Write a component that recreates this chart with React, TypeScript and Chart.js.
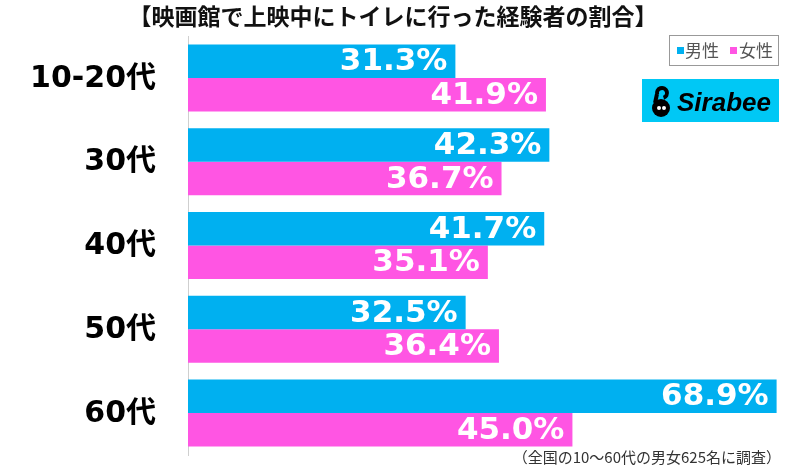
import React, { useEffect, useRef } from "react";
import { Chart, registerables } from "chart.js";
Chart.register(...registerables);

const categories = ["10-20代", "30代", "40代", "50代", "60代"];
const maleValues = [31.3, 42.3, 41.7, 32.5, 68.9];
const femaleValues = [41.9, 36.7, 35.1, 36.4, 45.0];
const seriesNames = ["男性", "女性"];
const titleText = "【映画館で上映中にトイレに行った経験者の割合】";
const noteText = "（全国の10〜60代の男女625名に調査）";
const logoText = "Sirabee";
const xMax = 70;

const BLUE = "#00b0f0";
const PINK = "#ff55e3";
const NUM_FONT = "'DejaVu Sans', 'Noto Sans CJK JP', sans-serif";
const JP_FONT = "'Noto Sans CJK JP', sans-serif";

const overlayPlugin = {
  id: "overlay",
  afterDatasetsDraw(chart: any) {
    const ctx = chart.ctx;
    ctx.save();
    ctx.fillStyle = "#ffffff";
    ctx.font = `bold 31px ${NUM_FONT}`;
    ctx.textAlign = "right";
    ctx.textBaseline = "middle";
    chart.data.datasets.forEach((ds: any, di: number) => {
      const meta = chart.getDatasetMeta(di);
      meta.data.forEach((el: any, i: number) => {
        const v = ds.data[i];
        ctx.fillText(v.toFixed(1) + "%", el.x - 8, el.y + 1);
      });
    });
    ctx.restore();
  },
  afterDraw(chart: any) {
    const ctx = chart.ctx;
    const yScale = chart.scales.y;
    ctx.save();
    // category labels
    ctx.fillStyle = "#000";
    ctx.font = `bold 30px ${NUM_FONT}`;
    ctx.textAlign = "right";
    ctx.textBaseline = "middle";
    categories.forEach((c, i) => {
      ctx.fillText(c, 156, yScale.getPixelForValue(i) + 1);
    });

    // title
    ctx.fillStyle = "#111";
    ctx.font = `bold 23px ${JP_FONT}`;
    ctx.textAlign = "center";
    ctx.textBaseline = "middle";
    ctx.fillText(titleText, 393, 16);

    // legend
    ctx.strokeStyle = "#999";
    ctx.lineWidth = 1;
    ctx.strokeRect(669.5, 35.5, 109, 30);
    ctx.fillStyle = BLUE;
    ctx.fillRect(677, 47, 7, 7);
    ctx.fillStyle = PINK;
    ctx.fillRect(730, 47, 7, 7);
    ctx.fillStyle = "#555";
    ctx.font = `17px ${JP_FONT}`;
    ctx.textAlign = "left";
    ctx.fillText(seriesNames[0], 685, 51);
    ctx.fillText(seriesNames[1], 739, 51);

    // logo
    ctx.fillStyle = "#00c8f5";
    ctx.fillRect(642, 79, 137, 43);
    ctx.fillStyle = "#000";
    ctx.beginPath();
    ctx.arc(661, 108, 9, 0, Math.PI * 2);
    ctx.fill();
    ctx.lineWidth = 4;
    ctx.strokeStyle = "#000";
    ctx.beginPath();
    ctx.arc(662, 93, 5, Math.PI * 0.9, Math.PI * 2.4);
    ctx.stroke();
    ctx.beginPath();
    ctx.moveTo(657, 94);
    ctx.lineTo(655, 103);
    ctx.stroke();
    ctx.fillStyle = "#fff";
    ctx.beginPath();
    ctx.arc(659, 108, 2, 0, Math.PI * 2);
    ctx.arc(664, 108, 2, 0, Math.PI * 2);
    ctx.fill();
    ctx.fillStyle = "#000";
    ctx.font = `italic bold 26px 'Liberation Sans', sans-serif`;
    ctx.textAlign = "left";
    ctx.textBaseline = "alphabetic";
    ctx.fillText(logoText, 677, 111);

    // note
    ctx.fillStyle = "#333";
    ctx.font = `15px ${JP_FONT}`;
    ctx.textAlign = "right";
    ctx.textBaseline = "middle";
    ctx.fillText(noteText, 781, 457);
    ctx.restore();
  },
};

export default function App() {
  const ref = useRef<HTMLCanvasElement | null>(null);
  useEffect(() => {
    document.body.style.margin = "0";
    const canvas = ref.current!;
    const chart = new Chart(canvas, {
      type: "bar",
      data: {
        labels: categories,
        datasets: [
          { label: seriesNames[0], data: maleValues, backgroundColor: BLUE, borderWidth: 0 },
          { label: seriesNames[1], data: femaleValues, backgroundColor: PINK, borderWidth: 0 },
        ],
      },
      options: {
        indexAxis: "y",
        responsive: false,
        animation: false,
        layout: { padding: { top: 36, bottom: 11, right: 14, left: 0 } },
        datasets: { bar: { categoryPercentage: 0.8, barPercentage: 1.0 } },
        plugins: { legend: { display: false }, title: { display: false }, tooltip: { enabled: false } },
        scales: {
          x: { display: false, min: 0, max: xMax },
          y: {
            grid: { display: false },
            border: { display: true, color: "#cfcfcf", width: 1 },
            ticks: { display: false },
            afterFit(scale: any) {
              scale.width = 188;
            },
          },
        },
      } as any,
      plugins: [overlayPlugin],
    });
    return () => chart.destroy();
  }, []);
  return (
    <div style={{ width: 800, height: 466 }}>
      <canvas ref={ref} width={800} height={466} style={{ display: "block" }} />
    </div>
  );
}
